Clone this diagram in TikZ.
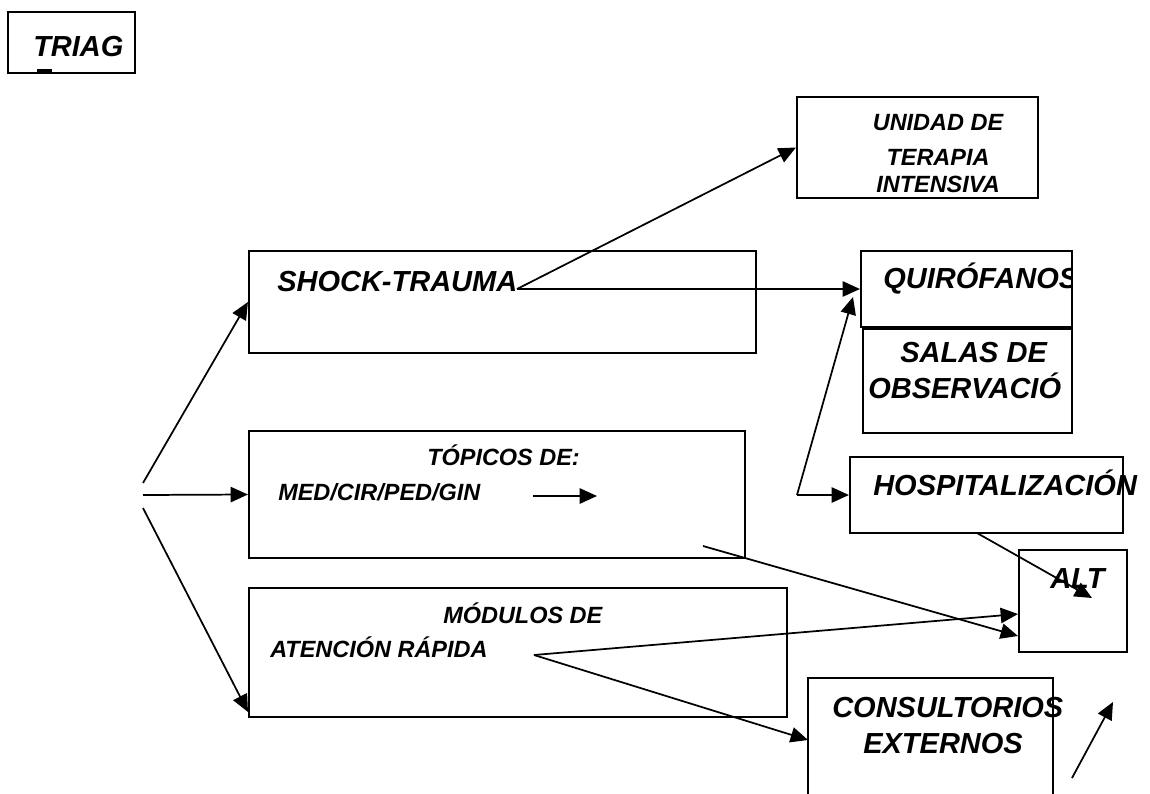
\documentclass[tikz,border=0pt]{standalone}
\usepackage{fontspec}
\setmainfont{Liberation Sans}
\usetikzlibrary{fit,arrows.meta}
\tikzset{
  box/.style={draw, line width=1.6pt, inner sep=0pt},
  big/.style={font=\fontsize{21.75pt}{26pt}\selectfont\bfseries\itshape, inner sep=0pt},
  small/.style={font=\fontsize{17.6pt}{21pt}\selectfont\bfseries\itshape, inner sep=0pt},
  conn/.style={line width=1.3pt, -{Triangle[length=13pt,width=11.5pt]}}
}
\begin{document}
\begin{tikzpicture}[x=0.75pt,y=-0.75pt]
\useasboundingbox (0,0) rectangle (1150,793);
% boxes
\node[box, fit={(8,12) (135,73)}] (triag) {};
\node[box, fit={(797,97) (1038,198)}] (uti) {};
\node[box, fit={(249,251) (756,353)}] (shock) {};
\node[box, fit={(861,251) (1072,327)}] (qui) {};
\node[box, fit={(863,329) (1072,433)}] (salas) {};
\node[box, fit={(249,431) (745,558)}] (tpc) {};
\node[box, fit={(850,457) (1123,533)}] (hosp) {};
\node[box, fit={(1019,550) (1127,652)}] (alt) {};
\node[box, fit={(249,588) (787,717)}] (mod) {};
\node[box, fit={(808,678) (1053,812)}] (cons) {};
\fill (37,69) rectangle (52,72);
% texts
\node[big, anchor=base west] (ttriag) at (33,56) {TRIAG};
\node[small, anchor=base] (tuti1) at (938,130) {UNIDAD DE};
\node[small, anchor=base] (tuti2) at (938,165) {TERAPIA};
\node[small, anchor=base] (tuti3) at (938,192) {INTENSIVA};
\node[big, anchor=base west] (tshock) at (277,291) {SHOCK-TRAUMA};
\begin{scope}
\clip (861,251) rectangle (1072,327);
\node[big, anchor=base west] (tqui) at (883,288) {QUIRÓFANOS};
\end{scope}
\node[big, anchor=base west] (tsal1) at (900,362) {SALAS DE};
\node[big, anchor=base west] (tsal2) at (868,398) {OBSERVACIÓ};
\node[big, anchor=base west] (thosp) at (873,495) {HOSPITALIZACIÓN};
\node[small, anchor=base west] (ttpc1) at (427,465) {TÓPICOS DE:};
\node[small, anchor=base west] (ttpc2) at (278,500) {MED/CIR/PED/GIN};
\node[small, anchor=base west] (tmod1) at (443,623) {MÓDULOS DE};
\node[small, anchor=base west] (tmod2) at (270,657) {ATENCIÓN RÁPIDA};
\node[big, anchor=base west] (talt) at (1050,588) {ALT};
\node[big, anchor=base west] (tcons1) at (832,717) {CONSULTORIOS};
\node[big, anchor=base west] (tcons2) at (863,753) {EXTERNOS};
% coordinates
\coordinate (f1) at (143,483);
\coordinate (f2) at (143,495);
\coordinate (f3) at (143,508);
\coordinate (m3) at (248,712);
\coordinate (sh1) at (517,289);
\coordinate (hc) at (797,495);
\coordinate (qt) at (853,297);
\coordinate (ma) at (533,496);
\coordinate (mb) at (597,496);
\coordinate (ts) at (703,546);
\coordinate (a2) at (1018,636);
\coordinate (as) at (534,655);
\coordinate (a1) at (1018,614);
\coordinate (cw) at (808,740);
\coordinate (hs) at (977,533);
\coordinate (at) at (1092,598);
\coordinate (fs) at (1072,778);
\coordinate (ft) at (1113,702);
% connectors
\draw[conn] (f1) -- (shock.west);
\draw[conn] (f2) -- (tpc.west);
\draw[conn] (f3) -- (m3);
\draw[conn] (sh1) -- (uti.west);
\draw[conn] (sh1) -- (qui.west);
\draw[conn] (hc) -- (qt);
\draw[conn] (hc) -- (hosp.west);
\draw[conn] (ma) -- (mb);
\draw[conn] (ts) -- (a2);
\draw[conn] (as) -- (a1);
\draw[conn] (as) -- (cw);
\draw[conn] (hs) -- (at);
\draw[conn] (fs) -- (ft);
\end{tikzpicture}
\end{document}
